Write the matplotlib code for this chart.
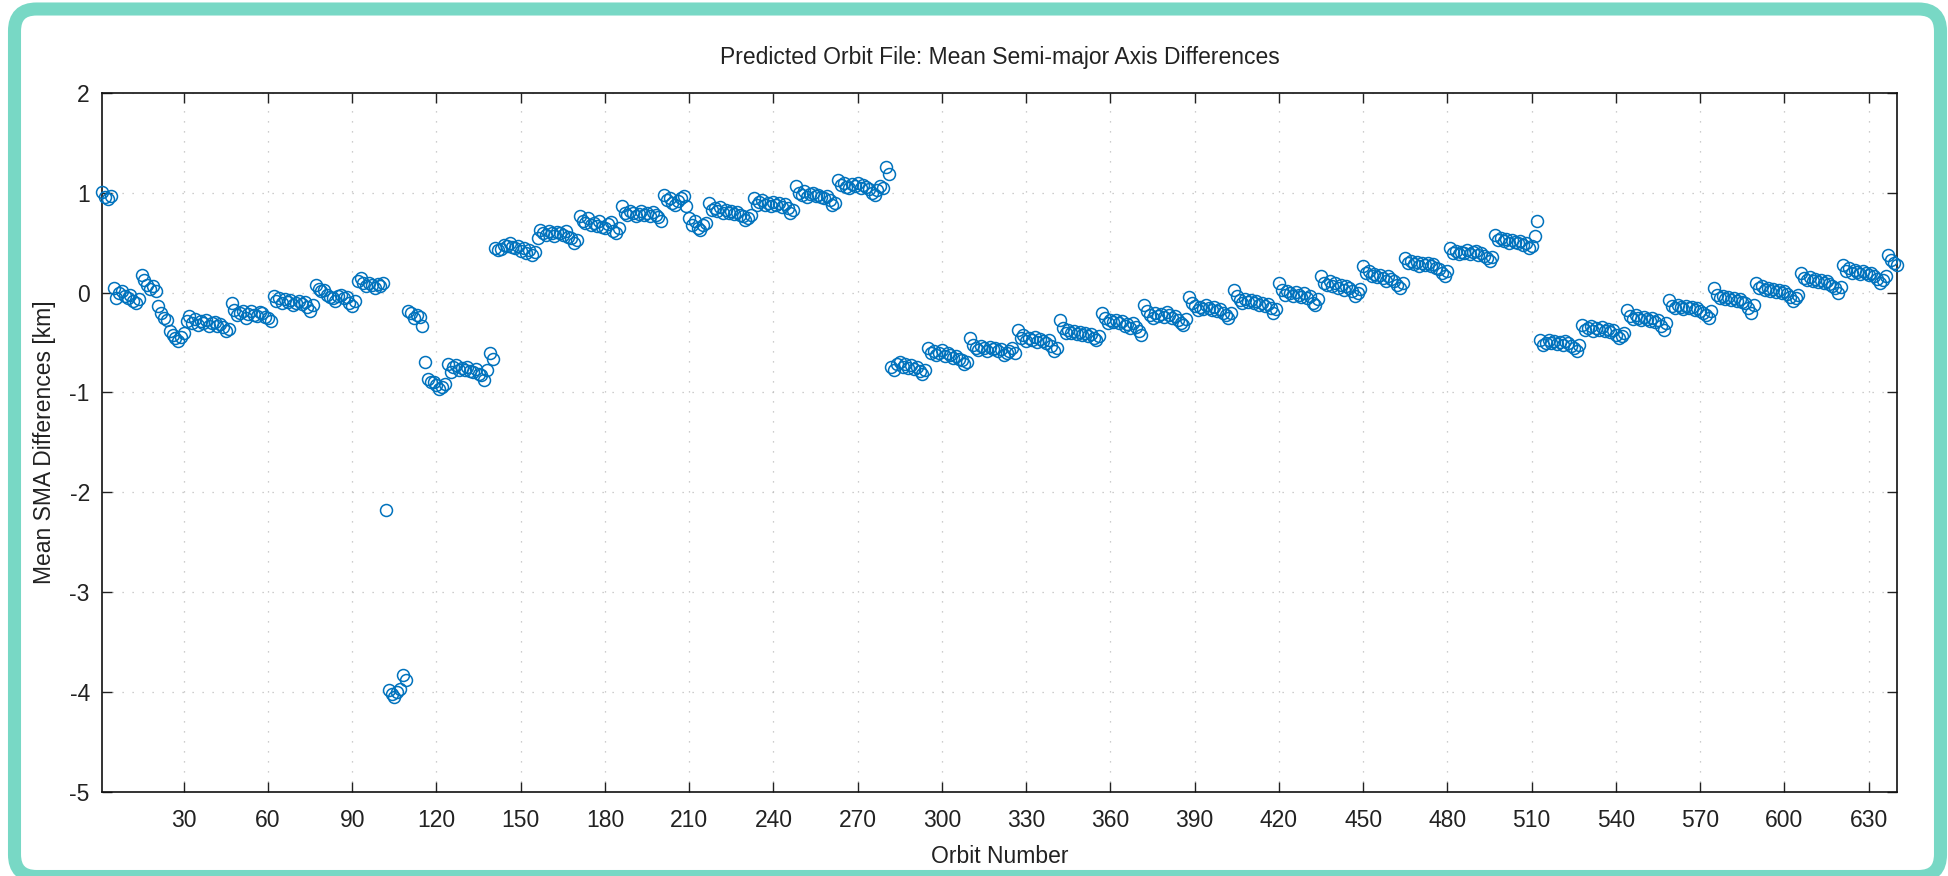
import numpy as np
import matplotlib
matplotlib.use('Agg')
import matplotlib.pyplot as plt
from matplotlib.patches import FancyBboxPatch

# Mean SMA differences [km], one value per orbit
sma_diff = [
    # 1-4
    1.01, 0.96, 0.94, 0.97,
    # 5-14
    0.05, -0.05, 0.0, 0.02, -0.03, -0.05, -0.02, -0.08, -0.1, -0.06,
    # 15-20
    0.18, 0.13, 0.08, 0.04, 0.07, 0.02,
    # 21-24
    -0.13, -0.2, -0.25, -0.27,
    # 25-30
    -0.38, -0.42, -0.45, -0.48, -0.44, -0.4,
    # 31-46
    -0.28, -0.23, -0.3, -0.26, -0.32, -0.28, -0.3, -0.27, -0.33, -0.3, -0.29, -0.33, -0.31, -0.34, -0.38, -0.36,
    # 47-61
    -0.1, -0.17, -0.22, -0.2, -0.18, -0.25, -0.21, -0.18, -0.22, -0.23, -0.19, -0.2, -0.24, -0.25, -0.28,
    # 62-76
    -0.03, -0.08, -0.05, -0.1, -0.06, -0.09, -0.07, -0.12, -0.1, -0.08, -0.11, -0.09, -0.14, -0.18, -0.12,
    # 77-91
    0.08, 0.04, 0.02, 0.03, -0.02, -0.04, -0.05, -0.08, -0.03, -0.02, -0.05, -0.04, -0.1, -0.13, -0.08,
    # 92-101
    0.12, 0.15, 0.1, 0.07, 0.1, 0.08, 0.05, 0.09, 0.07, 0.1,
    # 102
    -2.18,
    # 103-109
    -3.98, -4.02, -4.05, -4.0, -3.97, -3.83, -3.88,
    # 110-115
    -0.18, -0.2, -0.25, -0.22, -0.24, -0.33,
    # 116
    -0.7,
    # 117-123
    -0.87, -0.9, -0.9, -0.93, -0.97, -0.95, -0.92,
    # 124-138
    -0.72, -0.8, -0.75, -0.73, -0.78, -0.76, -0.78, -0.75, -0.79, -0.8, -0.77, -0.82, -0.83, -0.88, -0.78,
    # 139-140
    -0.6, -0.66,
    # 141-155
    0.45, 0.43, 0.44, 0.48, 0.47, 0.5, 0.46, 0.45, 0.47, 0.42, 0.45, 0.4, 0.43, 0.38, 0.41,
    # 156-170
    0.55, 0.63, 0.6, 0.58, 0.62, 0.6, 0.57, 0.61, 0.6, 0.58, 0.62, 0.56, 0.55, 0.5, 0.53,
    # 171-185
    0.77, 0.72, 0.7, 0.75, 0.68, 0.7, 0.67, 0.72, 0.66, 0.65, 0.69, 0.71, 0.62, 0.6, 0.65,
    # 186-200
    0.87, 0.8, 0.78, 0.82, 0.8, 0.77, 0.79, 0.82, 0.78, 0.8, 0.77, 0.81, 0.78, 0.76, 0.72,
    # 201-209
    0.98, 0.93, 0.95, 0.9, 0.88, 0.92, 0.95, 0.97, 0.87,
    # 210-216
    0.75, 0.68, 0.72, 0.65, 0.63, 0.68, 0.7,
    # 217-232
    0.9, 0.83, 0.85, 0.82, 0.86, 0.8, 0.83, 0.8, 0.82, 0.79, 0.81, 0.78, 0.77, 0.73, 0.75, 0.78,
    # 233-247
    0.95, 0.88, 0.91, 0.93, 0.88, 0.9, 0.87, 0.91, 0.88, 0.9, 0.86, 0.89, 0.85, 0.8, 0.83,
    # 248-262
    1.07, 1.0, 0.98, 1.02, 0.96, 0.99, 1.0, 0.97, 0.98, 0.96, 0.95, 0.97, 0.93, 0.88, 0.9,
    # 263-279
    1.13, 1.08, 1.1, 1.06, 1.05, 1.09, 1.07, 1.1, 1.05, 1.08, 1.06, 1.04, 1.0, 0.98, 1.03, 1.07, 1.05,
    # 280-281
    1.26, 1.19,
    # 282-294
    -0.75, -0.78, -0.72, -0.7, -0.75, -0.72, -0.76, -0.73, -0.77, -0.75, -0.79, -0.82, -0.78,
    # 295-309
    -0.55, -0.6, -0.58, -0.62, -0.6, -0.57, -0.63, -0.6, -0.62, -0.65, -0.63, -0.66, -0.68, -0.72, -0.7,
    # 310-326
    -0.45, -0.52, -0.55, -0.57, -0.53, -0.55, -0.58, -0.54, -0.56, -0.55, -0.58, -0.56, -0.62, -0.6, -0.58, -0.55, -0.6,
    # 327-341
    -0.37, -0.45, -0.42, -0.48, -0.45, -0.47, -0.44, -0.49, -0.46, -0.48, -0.5, -0.47, -0.53, -0.58, -0.55,
    # 342-356
    -0.27, -0.35, -0.4, -0.37, -0.4, -0.38, -0.41, -0.39, -0.42, -0.4, -0.43, -0.41, -0.45, -0.47, -0.43,
    # 357-371
    -0.2, -0.25, -0.3, -0.27, -0.29, -0.27, -0.3, -0.28, -0.33, -0.31, -0.35, -0.3, -0.34, -0.38, -0.42,
    # 372-387
    -0.12, -0.18, -0.22, -0.25, -0.2, -0.23, -0.21, -0.24, -0.19, -0.22, -0.25, -0.23, -0.27, -0.3, -0.32, -0.26,
    # 388-403
    -0.04, -0.1, -0.13, -0.17, -0.14, -0.16, -0.12, -0.15, -0.17, -0.14, -0.18, -0.16, -0.2, -0.22, -0.25, -0.2,
    # 404-419
    0.03, -0.03, -0.07, -0.1, -0.06, -0.09, -0.07, -0.1, -0.08, -0.12, -0.1, -0.13, -0.11, -0.15, -0.2, -0.16,
    # 420-434
    0.1, 0.03, -0.02, 0.02, 0.0, -0.03, 0.01, -0.02, -0.04, 0.0, -0.05, -0.03, -0.1, -0.12, -0.06,
    # 435-449
    0.17, 0.1, 0.08, 0.12, 0.07, 0.1, 0.05, 0.08, 0.03, 0.07, 0.05, 0.02, -0.03, 0.0, 0.04,
    # 450-464
    0.27, 0.2, 0.22, 0.17, 0.19, 0.16, 0.18, 0.15, 0.12, 0.17, 0.14, 0.12, 0.08, 0.05, 0.1,
    # 465-480
    0.35, 0.3, 0.32, 0.29, 0.31, 0.27, 0.3, 0.28, 0.3, 0.27, 0.29, 0.25, 0.24, 0.2, 0.17, 0.22,
    # 481-496
    0.45, 0.4, 0.42, 0.39, 0.41, 0.4, 0.43, 0.39, 0.41, 0.42, 0.38, 0.4, 0.37, 0.35, 0.32, 0.36,
    # 497-510
    0.58, 0.53, 0.55, 0.52, 0.54, 0.5, 0.53, 0.51, 0.5, 0.52, 0.48, 0.5, 0.45, 0.47,
    # 511-512
    0.57, 0.72,
    # 513-527
    -0.47, -0.52, -0.5, -0.47, -0.5, -0.48, -0.51, -0.49, -0.52, -0.48, -0.5, -0.53, -0.55, -0.58, -0.52,
    # 528-543
    -0.32, -0.37, -0.35, -0.33, -0.38, -0.35, -0.37, -0.34, -0.38, -0.36, -0.39, -0.37, -0.42, -0.45, -0.43, -0.4,
    # 544-558
    -0.17, -0.23, -0.26, -0.22, -0.25, -0.27, -0.24, -0.26, -0.28, -0.25, -0.29, -0.27, -0.33, -0.37, -0.3,
    # 559-574
    -0.07, -0.13, -0.15, -0.12, -0.14, -0.16, -0.13, -0.15, -0.14, -0.17, -0.15, -0.18, -0.2, -0.22, -0.25, -0.18,
    # 575-589
    0.05, -0.02, -0.05, -0.03, -0.06, -0.04, -0.07, -0.05, -0.08, -0.06, -0.09, -0.1, -0.15, -0.2, -0.12,
    # 590-605
    0.1, 0.05, 0.07, 0.03, 0.05, 0.02, 0.04, 0.01, 0.03, 0.0, 0.02, -0.01, -0.04, -0.08, -0.05, -0.02,
    # 606-620
    0.2, 0.15, 0.13, 0.16, 0.12, 0.14, 0.11, 0.13, 0.1, 0.12, 0.09, 0.07, 0.05, 0.0, 0.06,
    # 621-636
    0.28, 0.22, 0.25, 0.2, 0.23, 0.21, 0.19, 0.22, 0.2, 0.18, 0.2, 0.17, 0.14, 0.1, 0.13, 0.17,
    # 637-640
    0.38, 0.33, 0.3, 0.28,
]
orbit = np.arange(1, len(sma_diff) + 1)

x_ticks = [30, 60, 90, 120, 150, 180, 210, 240, 270, 300, 330, 360, 390,
           420, 450, 480, 510, 540, 570, 600, 630]
y_ticks = [-5, -4, -3, -2, -1, 0, 1, 2]

title_text = "Predicted Orbit File: Mean Semi-major Axis Differences"
x_label = "Orbit Number"
y_label = "Mean SMA Differences [km]"

plt.rcParams['font.family'] = ['Liberation Sans', 'DejaVu Sans']
plt.rcParams['axes.unicode_minus'] = False

fig = plt.figure(figsize=(19.49, 8.76), dpi=100)
fig.patch.set_facecolor('white')

# teal rounded frame
frame = FancyBboxPatch((0.145, -0.005), 19.26, 8.675,
                       boxstyle="round,pad=0,rounding_size=0.22",
                       transform=fig.dpi_scale_trans, facecolor='none',
                       edgecolor='#78d8c5', linewidth=9.4, zorder=0)
fig.patches.append(frame)

ax = fig.add_axes([0.0525, 0.0963, 0.9207, 0.7975])
ax.plot(orbit, sma_diff, linestyle='none', marker='o', markersize=8.6,
        markerfacecolor='none', markeredgecolor='#0072BD',
        markeredgewidth=1.1, clip_on=False, zorder=3)

ax.set_xlim(1, 640)
ax.set_ylim(-5, 2)
ax.set_xticks(x_ticks)
ax.set_yticks(y_ticks)
ax.grid(True, color='#bdbdbd', linestyle=(0, (1, 7)), linewidth=0.9)
ax.set_axisbelow(True)
ax.tick_params(direction='in', length=7.2, width=1.0, top=True, right=True,
               labelsize=16.5, colors='#222222')
ax.tick_params(axis='x', pad=12.5)
ax.tick_params(axis='y', pad=9)
for s in ax.spines.values():
    s.set_linewidth(1.2)
    s.set_color('#111111')

ax.set_title(title_text, fontsize=16.5, pad=21, color='#222222')
ax.set_xlabel(x_label, fontsize=16.5, labelpad=9, color='#222222')
ax.set_ylabel(y_label, fontsize=16.5, labelpad=10, color='#222222')

fig.savefig('out.png', dpi=100, facecolor='white')
